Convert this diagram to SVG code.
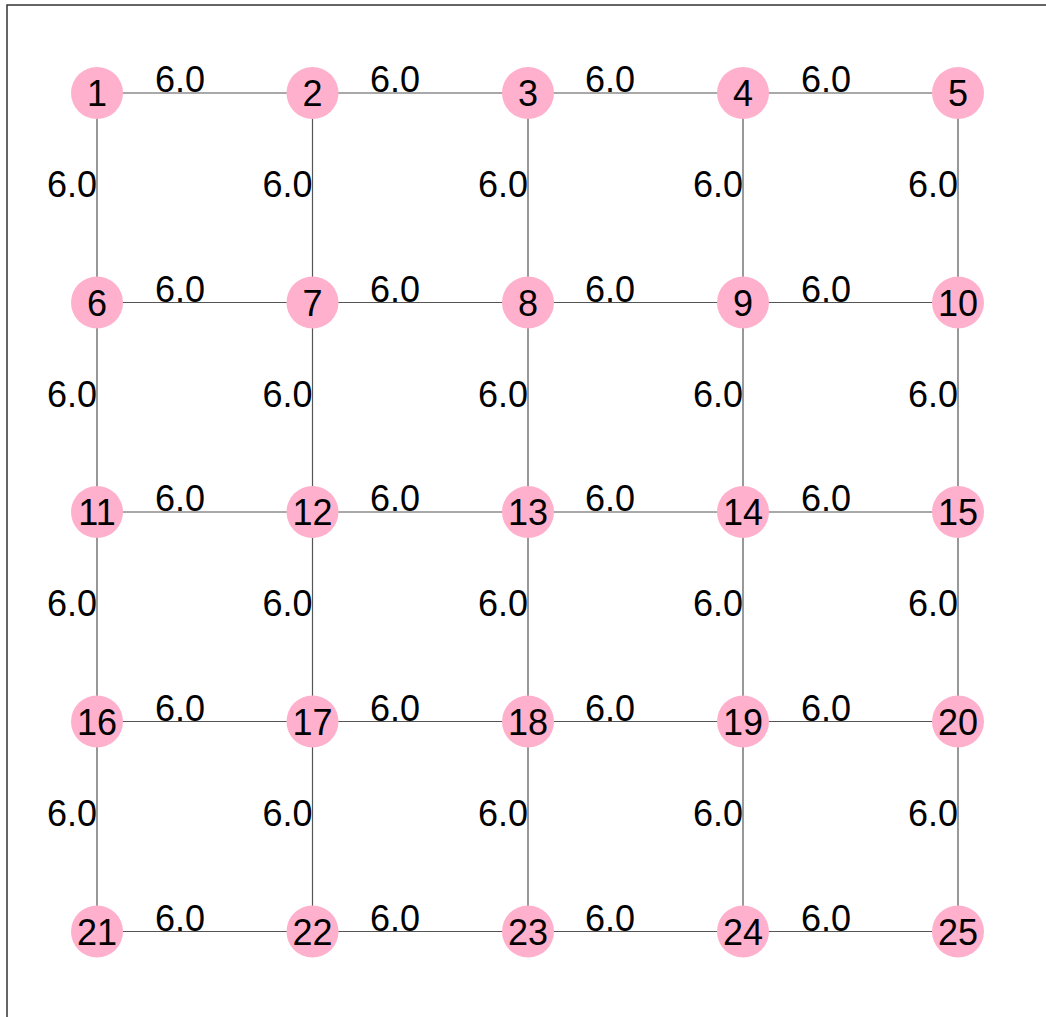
<svg xmlns="http://www.w3.org/2000/svg" width="1046" height="1017" viewBox="0 0 1046 1017">
<style>
.e{stroke:#555;stroke-width:1.2;fill:none}
.n{fill:#ffb0cc}
text{font-family:"Liberation Sans",Arial,sans-serif;font-size:36px;fill:#000}
.nl{text-anchor:middle}
.el{text-anchor:end}
</style>
<rect width="1046" height="1017" fill="#fff"/>
<path d="M7,1017 V5 H1046" stroke="#333" stroke-width="1.5" fill="none"/>
<g id="connectors">
<path class="e" d="M97,93H958M97,302.5H958M97,512H958M97,721.5H958M97,931.5H958"/>
<path class="e" d="M97,93V931.5M312.5,93V931.5M528,93V931.5M743,93V931.5M958,93V931.5"/>
<g id="edge-labels">
<text class="el" x="205" y="92">6.0</text><text class="el" x="420" y="92">6.0</text><text class="el" x="635" y="92">6.0</text><text class="el" x="851" y="92">6.0</text>
<text class="el" x="205" y="301.5">6.0</text><text class="el" x="420" y="301.5">6.0</text><text class="el" x="635" y="301.5">6.0</text><text class="el" x="851" y="301.5">6.0</text>
<text class="el" x="205" y="511">6.0</text><text class="el" x="420" y="511">6.0</text><text class="el" x="635" y="511">6.0</text><text class="el" x="851" y="511">6.0</text>
<text class="el" x="205" y="720.5">6.0</text><text class="el" x="420" y="720.5">6.0</text><text class="el" x="635" y="720.5">6.0</text><text class="el" x="851" y="720.5">6.0</text>
<text class="el" x="205" y="930.5">6.0</text><text class="el" x="420" y="930.5">6.0</text><text class="el" x="635" y="930.5">6.0</text><text class="el" x="851" y="930.5">6.0</text>
<text class="el" x="97" y="197">6.0</text><text class="el" x="312.5" y="197">6.0</text><text class="el" x="528" y="197">6.0</text><text class="el" x="743" y="197">6.0</text><text class="el" x="958" y="197">6.0</text>
<text class="el" x="97" y="407">6.0</text><text class="el" x="312.5" y="407">6.0</text><text class="el" x="528" y="407">6.0</text><text class="el" x="743" y="407">6.0</text><text class="el" x="958" y="407">6.0</text>
<text class="el" x="97" y="616">6.0</text><text class="el" x="312.5" y="616">6.0</text><text class="el" x="528" y="616">6.0</text><text class="el" x="743" y="616">6.0</text><text class="el" x="958" y="616">6.0</text>
<text class="el" x="97" y="826">6.0</text><text class="el" x="312.5" y="826">6.0</text><text class="el" x="528" y="826">6.0</text><text class="el" x="743" y="826">6.0</text><text class="el" x="958" y="826">6.0</text>
</g>
</g>
<g id="node1"><circle class="n" cx="97" cy="93" r="26"/><text class="nl" x="97" y="106">1</text></g>
<g id="node2"><circle class="n" cx="312.5" cy="93" r="26"/><text class="nl" x="312.5" y="106">2</text></g>
<g id="node3"><circle class="n" cx="528" cy="93" r="26"/><text class="nl" x="528" y="106">3</text></g>
<g id="node4"><circle class="n" cx="743" cy="93" r="26"/><text class="nl" x="743" y="106">4</text></g>
<g id="node5"><circle class="n" cx="958" cy="93" r="26"/><text class="nl" x="958" y="106">5</text></g>
<g id="node6"><circle class="n" cx="97" cy="302.5" r="26"/><text class="nl" x="97" y="315.5">6</text></g>
<g id="node7"><circle class="n" cx="312.5" cy="302.5" r="26"/><text class="nl" x="312.5" y="315.5">7</text></g>
<g id="node8"><circle class="n" cx="528" cy="302.5" r="26"/><text class="nl" x="528" y="315.5">8</text></g>
<g id="node9"><circle class="n" cx="743" cy="302.5" r="26"/><text class="nl" x="743" y="315.5">9</text></g>
<g id="node10"><circle class="n" cx="958" cy="302.5" r="26"/><text class="nl" x="958" y="315.5">10</text></g>
<g id="node11"><circle class="n" cx="97" cy="512" r="26"/><text class="nl" x="97" y="525">11</text></g>
<g id="node12"><circle class="n" cx="312.5" cy="512" r="26"/><text class="nl" x="312.5" y="525">12</text></g>
<g id="node13"><circle class="n" cx="528" cy="512" r="26"/><text class="nl" x="528" y="525">13</text></g>
<g id="node14"><circle class="n" cx="743" cy="512" r="26"/><text class="nl" x="743" y="525">14</text></g>
<g id="node15"><circle class="n" cx="958" cy="512" r="26"/><text class="nl" x="958" y="525">15</text></g>
<g id="node16"><circle class="n" cx="97" cy="721.5" r="26"/><text class="nl" x="97" y="734.5">16</text></g>
<g id="node17"><circle class="n" cx="312.5" cy="721.5" r="26"/><text class="nl" x="312.5" y="734.5">17</text></g>
<g id="node18"><circle class="n" cx="528" cy="721.5" r="26"/><text class="nl" x="528" y="734.5">18</text></g>
<g id="node19"><circle class="n" cx="743" cy="721.5" r="26"/><text class="nl" x="743" y="734.5">19</text></g>
<g id="node20"><circle class="n" cx="958" cy="721.5" r="26"/><text class="nl" x="958" y="734.5">20</text></g>
<g id="node21"><circle class="n" cx="97" cy="931.5" r="26"/><text class="nl" x="97" y="944.5">21</text></g>
<g id="node22"><circle class="n" cx="312.5" cy="931.5" r="26"/><text class="nl" x="312.5" y="944.5">22</text></g>
<g id="node23"><circle class="n" cx="528" cy="931.5" r="26"/><text class="nl" x="528" y="944.5">23</text></g>
<g id="node24"><circle class="n" cx="743" cy="931.5" r="26"/><text class="nl" x="743" y="944.5">24</text></g>
<g id="node25"><circle class="n" cx="958" cy="931.5" r="26"/><text class="nl" x="958" y="944.5">25</text></g>
</svg>
